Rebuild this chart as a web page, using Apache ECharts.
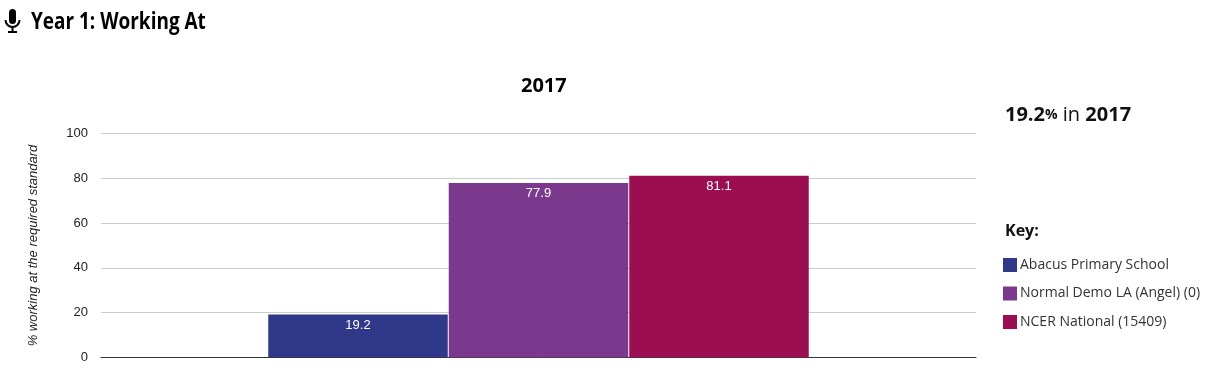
<!DOCTYPE html>
<html>
<head>
<meta charset="utf-8">
<title>Year 1: Working At</title>
<style>
html, body { margin: 0; padding: 0; background: #fff; }
#chart { width: 1207px; height: 379px; }
</style>
<script src="https://cdn.jsdelivr.net/npm/echarts@6/dist/echarts.min.js"></script>
</head>
<body>
<div id="chart"></div>
<script>
var categories = ['2017'];
var seriesNames = ['Abacus Primary School', 'Normal Demo LA (Angel) (0)', 'NCER National (15409)'];
var seriesColors = ['#303889', '#7a398c', '#9b0e52'];
var abacusValues = [19.2];
var laValues = [77.9];
var nationalValues = [81.1];
var yTicks = { min: 0, max: 100, interval: 20 };

var sans = '"Open Sans", sans-serif';
var arial = '"Liberation Sans", Arial, sans-serif';

function makeSeries(name, values, color) {
	return {
		name: name,
		type: 'bar',
		data: values,
		barWidth: 179.5,
		barGap: '0.557%',
		itemStyle: { color: color },
		label: {
			show: true,
			position: 'insideTop',
			distance: 4,
			color: '#fff',
			fontFamily: arial,
			fontSize: 13,
			formatter: function (p) { return p.value.toFixed(1); }
		}
	};
}

var myChart = echarts.init(document.getElementById('chart'), null, { renderer: 'canvas' });
var option = {
	animation: false,
	textStyle: { fontFamily: sans },
	grid: { left: 101, right: 231, top: 133.5, height: 224 },
	title: {
		text: categories[0],
		left: 516,
		top: 71,
		textStyle: { fontFamily: sans, fontSize: 20, fontWeight: 'bold', color: '#000' }
	},
	legend: {
		orient: 'vertical',
		left: 998,
		top: 253,
		itemWidth: 14,
		itemHeight: 14,
		itemGap: 14.5,
		icon: 'rect',
		selectedMode: false,
		textStyle: { fontFamily: sans, fontSize: 14, color: '#333', padding: [2, 0, 0, -2] },
		data: seriesNames
	},
	xAxis: {
		type: 'category',
		data: categories,
		axisTick: { show: false },
		axisLabel: { show: false },
		axisLine: { lineStyle: { color: '#333', width: 1 } }
	},
	yAxis: {
		type: 'value',
		min: yTicks.min,
		max: yTicks.max,
		interval: yTicks.interval,
		name: '% working at the required standard',
		nameLocation: 'middle',
		nameGap: 61,
		nameTextStyle: { fontFamily: arial, fontStyle: 'italic', fontSize: 13, color: '#222' },
		axisLabel: { fontFamily: arial, fontSize: 13, color: '#222', margin: 13, padding: [2, 0, 0, 0] },
		axisTick: { show: false },
		axisLine: { show: false },
		splitLine: { lineStyle: { color: '#ccc', width: 1 } }
	},
	series: [
		makeSeries(seriesNames[0], abacusValues, seriesColors[0]),
		makeSeries(seriesNames[1], laValues, seriesColors[1]),
		makeSeries(seriesNames[2], nationalValues, seriesColors[2])
	],
	graphic: [
		// mic icon
		{ type: 'rect', shape: { x: 9, y: 9, width: 7, height: 15, r: 3.5 }, style: { fill: '#000' } },
		{ type: 'arc', shape: { cx: 12.5, cy: 20, r: 7, startAngle: 0, endAngle: Math.PI, clockwise: true }, style: { stroke: '#000', lineWidth: 2, fill: null } },
		{ type: 'rect', shape: { x: 11.5, y: 27, width: 2, height: 5 }, style: { fill: '#000' } },
		{ type: 'rect', shape: { x: 8, y: 31, width: 9, height: 2 }, style: { fill: '#000' } },
		// heading, squeezed because there is no condensed face installed
		{
			type: 'text', x: 31, y: 10, scaleX: 0.79,
			style: { text: 'Year 1: Working At', fontFamily: sans, fontSize: 24, fontWeight: 'bold', fill: '#000' }
		},
		{
			type: 'text', x: 1005, y: 105,
			style: {
				rich: {
					b: { fontFamily: sans, fontSize: 20, fontWeight: 'bold', fill: '#111' },
					s: { fontFamily: sans, fontSize: 14, fontWeight: 'bold', fill: '#111' },
					n: { fontFamily: sans, fontSize: 20, fill: '#111' }
				},
				text: '{b|' + abacusValues[0] + '}{s|%}{n| in }{b|' + categories[0] + '}'
			}
		},
		{
			type: 'text', x: 1005, y: 223,
			style: { text: 'Key:', fontFamily: sans, fontSize: 16, fontWeight: 'bold', fill: '#111' }
		}
	]
};
myChart.setOption(option);
</script>
</body>
</html>
